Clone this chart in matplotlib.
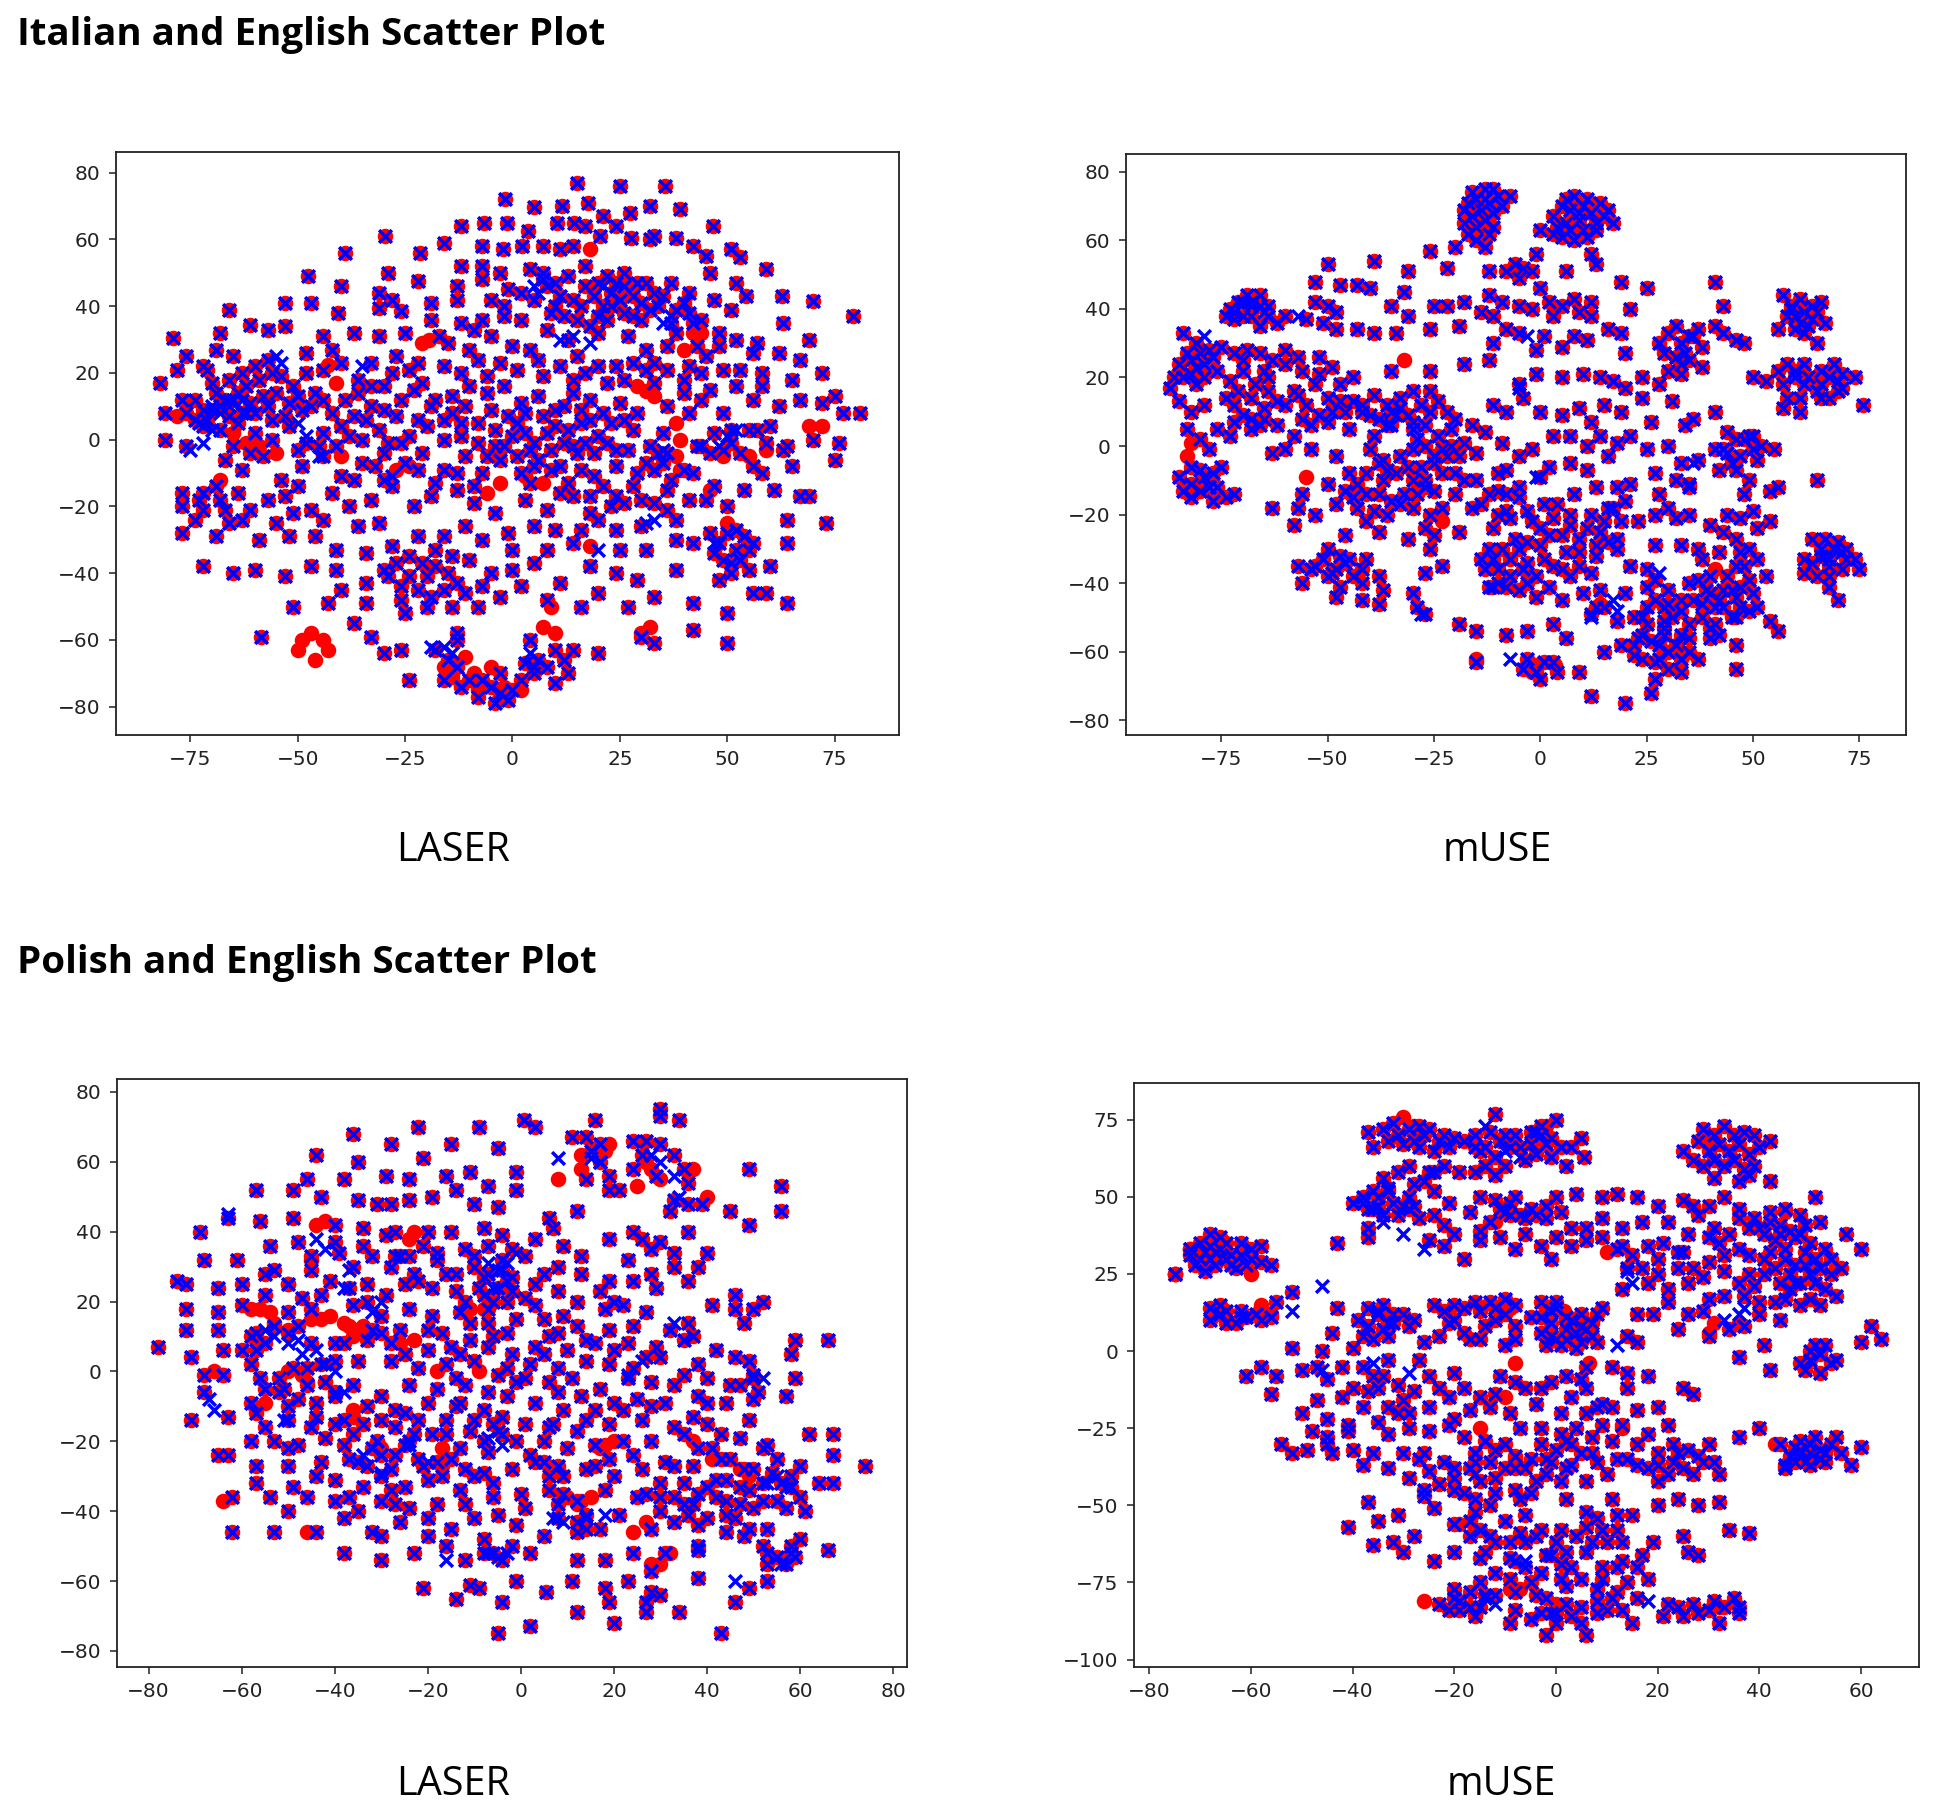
import numpy as np
import matplotlib
matplotlib.use('Agg')
import matplotlib.pyplot as plt

# points where both languages sit together
it_laser_both = [
    (15,77),(25,76),(35.5,76),(-1.7,72),(5,69.6),(11.6,70),(17.7,71),(27.4,68),(32,70),(39,69),(21,67),(24,64),
    (46.7,64),(-12,64),(-6.7,65),(-1.2,65),(3.7,62.5),(10.4,65),(14.4,65),(17,64),(-29.6,61),(-16,59),(-21.6,56),
    (-39,56),(-7,58),(-2.3,57),(2.3,58),(7,58),(11,57),(14,58),(20.5,61),(27.6,60.5),(32,60),(33,61),(38,60.5),
    (42,58),(45,55),(51,57),(53,54.6),(59,51),(52,47),(54.4,43),(62.7,43),(70,41.5),(79.4,37),(-47.5,49),(-40,46),
    (-29,50),(-22,47.5),(-31,44),(-28,42),(-19,41),(-31,39.5),(-26,38.5),(-53,41),(-47,41),(-66,39),(-40.5,38),
    (-61,34.5),(-57,33),(-68,32),(-53,34),(-37,32),(-31,31),(-25,32),(-79,30.5),(-44,31),(-19,36),(-12,35),(-7,36),
    (-2,37),(2,36),(-12,52),(-7,52),(-3,50),(-13,46),(-7,48),(-13,42),(-5,42),(-1,45),(5,42),(8,46),(11,43),
    (13,49),(17,52),(20,47),(23,44),(26,50),(29,47),(33,44),(16,40),(21,40),(26,38),(30,41),(37,47),(41,44),
    (46,50),(47,42),(51,39),(41,38),(37,35),(44,36),(48,32),(52,30),(57,29),(63,35),(69,30),(62,26),(56,26),
    (45,25),(49,21),(53,21),(58,20),(67,24),(65,18),(72,20),(75,13),(77,8),(81,8),(72,11),(67,12),(62,10),
    (56,12),(49,8),(46,15),(44,20),(41,22),(36,21),(31,27),(27,31),(20,32),(13,30),(8,33),(4,27),(0,28),(-5,31),
    (-10,27),(-15,29),(-16,22),(-22,23),(-27,25),(-33,23),(-42,27),(-48,26),(-57,24),(-65,25),(-69,27),(-76,25),
    (-72,22),(-71,21),(-78,21),(-82,17),(-77,12),(-81,8),(-81,0),(-76,-2),(-70,9),(-67,12),(-64,14),(-61,11),
    (-58,13),(-55,14),(-52,11),(-49,9),(-46,14),(-42,8),(-39,12),(-36,14),(-33,10),(-30,16),(-26,12),(-23,15),
    (-19,10),(-14,13),(-10,16),(-6,14),(-2,16),(2,11),(6,13),(10,9),(14,14),(18,12),(22,17),(25,11),(29,8),(33,17),
    (36,10),(40,14),(-72,4),(-68,3),(-64,5),(-60,2),(-56,0),(-52,4),(-48,-1),(-44,2),(-40,4),(-35,0),(-31,3),
    (-27,7),(-24,1),(-20,4),(-16,0),(-12,5),(-8,-1),(-4,3),(0,1),(4,-3),(8,2),(12,-1),(16,5),(20,1),(24,-3),
    (28,3),(32,-2),(36,-4),(43,-2),(47,2),(51,-1),(55,3),(59,-1),(64,-2),(70,0),(76,-1),(75,-6),(-67,-6),(-63,-9),
    (-58,-5),(-54,-12),(-49,-8),(-44,-5),(-40,-11),(-35,-7),(-30,-12),(-25,-7),(-21,-4),(-16,-9),(-11,-5),(-7,-10),
    (-3,-6),(2,-10),(6,-6),(11,-8),(15,-4),(19,-11),(24,-8),(29,-10),(35,-7),(42,-10),(47,-14),(56,-8),(65,-8),
    (-77,-16),(-77,-20),(-72,-21),(-68,-18),(-64,-16),(-61,-21),(-57,-18),(-53,-17),(-50,-14),(-47,-21),(-42,-16),
    (-38,-20),(-33,-18),(-28,-14),(-23,-20),(-19,-17),(-13,-15),(-9,-19),(-4,-22),(3,-18),(8,-21),(14,-17),(18,-22),
    (23,-20),(28,-14),(33,-19),(38,-24),(45,-18),(54,-15),(61,-15),(67,-17),(69,-17),(64,-24),(73,-25),(-77,-28),
    (-69,-29),(-63,-24),(-59,-30),(-52,-29),(-46,-29),(-41,-33),(-36,-26),(-31,-25),(-28,-32),(-22,-29),(-16,-29),
    (-11,-26),(-7,-30),(-1,-28),(5,-26),(10,-27),(14,-31),(20,-24),(25,-33),(31,-33),(38,-30),(42,-31),(48,-31),
    (52,-27),(55,-33),(64,-31),(60,-38),(-72,-38),(-65,-40),(-60,-39),(-53,-41),(-47,-38),(-41,-39),(-34,-43),
    (-30,-39),(-26,-44),(-21,-37),(-15,-40),(-10,-36),(-5,-40),(0,-39),(5,-37),(11,-43),(18,-38),(24,-40),(29,-42),
    (38,-39),(48,-42),(51,-37),(55,-39),(59,-46),(-51,-50),(-43,-49),(-40,-45),(-34,-49),(-25,-52),(-19,-47),
    (-14,-50),(-8,-50),(-3,-47),(2,-44),(8,-48),(16,-50),(20,-46),(27,-50),(33,-47),(42,-49),(50,-52),(56,-46),
    (64,-49),(-58.5,-59),(-37,-55),(-33,-59),(-26,-63),(-30,-64),(-13,-58),(4,-60),(14,-63),(20,-64),(30,-59),
    (33,-61),(42,-57),(50,-61),(-24,-72),(-16,-72),(-12,-74),(-8,-77),(-4,-79),(0,-75),(5,-70),(10,-73),(13,-70),
]
# tighter patches of the same kind, taken from the busy parts of the picture
it_laser_dense = [
    (-74,12),(-72,9),(-71,6),(-69,14),(-68,10),(-66,7),(-65,12),(-63,8),(-62,16),(-60,8),(-59,18),(-57,10),(-56,6),
    (-54,19),(-53,7),(-51,16),(-50,13),(-47,10),(-44,12),(-66,18),(-63,20),(-60,22),(-56,20),(-70,17),(-74,6),(-76,8),
    (-61,-4),(-65,-2),(-50,-3),(-45,-2),(-38,1),(-34,6),(-30,9),(-29,-1),(-22,6),(-18,12),(-14,8),(-12,1),(-8,5),(-5,9),
    (-4,-2),(-1,7),(1,5),(3,8),(3,2),(5,-1),(7,7),(9,-3),(10,4),(12,10),(13,3),(14,-2),(16,9),(17,-1),(18,6),(19,-4),
    (21,8),(22,-1),(23,5),(26,6),(27,-3),(-2,-2),(-6,-5),(1,-5),(5,-8),(9,-9),(13,-13),(16,-9),(21,-14),(24,-17),(-9,-14),
    (4,-13),(11,-16),(18,-17),(26,-19),(30,-18),(34,-4),(35,2),(33,-9),(37,-12),(31,-7),(36,-15),(40,-9),(46,-4),(49,-3),
    (51,3),(53,-4),(57,3),(60,4),(44,-2),(-72,-16),(-69,-14),(-67,-21),(-66,-25),(-73,-18),(-74,-24),(-29,-41),(-27,-37),
    (-24,-41),(-24,-35),(-22,-45),(-20,-41),(-18,-33),(-18,-38),(-16,-45),(-14,-35),(-26,-48),(-20,-50),(-13,-43),(7,48),
    (10,40),(14,42),(15,36),(17,46),(18,34),(19,43),(20,37),(22,36),(22,49),(23,40),(24,47),(25,42),(26,46),(28,37),(28,43),
    (30,36),(31,47),(32,39),(34,40),(35,43),(38,39),(40,41),(38,32),(42,35),(4,51),(7,50),(10,47),(12,37),(50,-28),(52,-33),
    (49,-36),(47,-34),(51,-40),(53,-36),(54,-29),(56,-31),(46,-28),(28,23),(31,21),(33,23),(20,22),(17,20),(14,18),(11,22),
    (7,19),(24,22),(26,18),(-13,-68),(-10,-72),(-7,-72),(-5,-74),(-3,-76),(-1,-78),(2,-72),(3,-67),(6,-66),(8,-68),(10,-63),
    (12,-66),(-18,-63),(-13,-60),(-15,-66),(-3,-70),
    # middle and lower gaps
    (-48,20),(-44,21),(-40,23),(-36,18),(-33,16),(-28,20),(-24,21),(-21,17),(-12,20),(-8,24),(-3,23),(1,21),(6,24),(-37,7),
    (-30,-4),(-26,-1),(-22,-9),(-18,-13),(-13,-10),(-11,10),(-6,19),(-16,6),(-41,-2),(-37,-12),(-32,-8),(-51,-22),(-55,-25),
    (-44,-24),(-34,-34),(-11,-46),(-7,-44),(0,-33),(8,-33),(16,-27),(24,-27),(30,-26),(36,-21),(41,-18),(50,-20),(58,-10),
    (63,-3),(41,8),(44,12),(52,16),(58,16),(48,28),(43,28),(36,28),(40,18),(15,25),(9,38),(2,44),(-2,40),(-9,33),(-17,31),
]
it_laser_red = [
    (-21,29),(-19.5,30),(-43,22.5),(-41,17),(29,16),(31,14.5),(33,13),(-65,2),(-62,-1),(-59,-2),(-55,-4),(-27,-9),
    (-24,-8),(-78,7),(-40,-5),(-68,-12),(18,-32),(-49,-60),(-47,-58),(-44,-60),(-43,-63),(-50,-63),(-46,-66),(38,5),
    (39,0),(38,-5),(39,-9),(40,27),(42,32),(44,32),(18,57),(-6,-16),(46,-15),(50,-25),(-11,-65),(-9,-70),(-14,-71),
    (-16,-68),(-8,-75),(-2,-74),(-5,-68),(2,-75),(32,-56),(30,-58),(7,-56),(10,-58),(9,-50),(-3,-13),(7,-13),(3,-11),
    (49,-5),(55,-5),(59,-3),(69,4),(72,4),
]
it_laser_blue = [
    (-70,10),(-68,8),(-66,10),(-63,12),(-70,3),(-75,-3),(-72,-1),(-50,5),(-48,1),(-35,22),(-28,-11),(11,30),(14,31),
    (18,29),(35,35),(37,37),(31,21),(35,-3),(50,1),(52,3),(48,-2),(-19,-62),(-16,-62),(-14,-64),(4,-64),(5,-68),
    (-66,12),(-62,8),(-73,5),(-54,23),(-55,25),(5,46),(6,44),(21,46),(20,-33),(31,-25),(33,-24),(47,-31),(-45,-5),
]

it_muse_both = [
    (-16,74),(-13,75),(-10,73),(-7,73),(-18,69),(-14,69),(-11,68),(-18,65),(-15,64),(-12,62),(-13,58),(-17,62),
    (-15,72),(-12,71),(5,70),(8,73),(11,72),(14,71),(17,65),(3,67),(6,65),(9,66),(12,68),(15,67),(5,61),(8,60),(11,61),
    (3,62),(0,63),(-20,58),(-26,57),(12,56),(13,53),(-12,51),(6,51),(-6,53),(-4,52),(-8,51),(-2,51),(-5,49),
    (-1,56),(-39,54),(-31,51),(-50,53),(-53,48),(-47,47),(-43,47),(-40,46),(-32,45),(-22,52),(-18,42),(0,46),
    (2,42),(5,41),(8,43),(12,42),(19,48),(25,46),(41,48),(43,41),(-53,42),(-50,41),(-48,39),(-35,41),(-25,41),(-22,41),
    (-12,44),(-9,42),(-5,41),(-14,39),(-11,38),(-31,38),(-2,40),(3,38),(9,39),(12,38),(21,40),(-73,40),(-71,42),
    (-69,44),(-66,41),(-64,38),(-68,38),(-72,37),(-60,38),(-62,36),(-66,35),(-55,37),(-51,36),(-48,34),(-43,34),
    (-39,33),(-34,33),(-26,34),(-19,35),(-11,30),(-8,34),(-5,33),(-1,28),(1,32),(5,29),(8,32),(11,31),(16,34),
    (19,33),(20,27),(28,30),(30,33),(33,30),(36,32),(38,29),(34,27),(32,26),(43,33),(46,31),(48,30),(41,35),(57,44),
    (59,41),(61,43),(64,41),(66,42),(58,38),(61,36),(64,37),(67,36),(56,34),(62,33),(65,30),(-84,33),(-81,30),(-78,28),
    (-75,29),(-72,27),(-69,28),(-66,27),(-63,25),(-60,24),(-56,22),(-52,21),(-85,24),(-82,25),(-79,24),(-84,20),
    (-87,17),(-81,18),(-76,22),(-70,22),(-65,22),(-53,18),(-49,23),(-47,18),(-44,20),(-35,22),(-26,22),(-18,24),
    (-12,25),(-5,18),(-1,21),(5,20),(10,21),(14,20),(17,19),(20,17),(24,20),(28,18),(33,21),(38,23),(50,20),(53,19),
    (56,22),(58,24),(60,20),(62,24),(66,22),(69,24),(71,21),(74,20),(62,18),(65,16),(68,14),(70,16),(58,14),(57,11),
    (61,10),(76,12),(-85,13),(-82,10),(-79,12),(-74,14),(-71,16),(-68,14),(-65,11),(-62,13),(-58,16),(-55,12),
    (-52,9),(-50,14),(-47,13),(-42,10),(-39,15),(-36,12),(-33,14),(-30,16),(-26,16),(-24,13),(-20,8),(-16,6),(-11,12),
    (-8,10),(-4,14),(0,10),(5,9),(9,11),(12,7),(15,12),(19,10),(24,14),(31,13),(34,6),(36,8),(41,10),(44,4),(50,-1),
    (-83,5),(-80,2),(-76,5),(-73,3),(-68,5),(-65,8),(-60,-1),(-58,3),(-50,7),(-45,5),(-39,3),(-35,6),(-30,5),(-27,0),
    (-24,3),(-21,5),(-18,1),(-13,4),(-9,1),(-5,-3),(-2,-1),(3,3),(7,3),(11,0),(14,3),(18,1),(21,3),(25,-1),(26,7),
    (30,0),(33,-5),(37,-4),(41,-1),(43,-1),(46,2),(49,3),(51,-4),(55,-1),(-78,-1),(-63,-2),(-54,-1),(-48,-3),
    (-40,-1),(-37,-4),(-33,-3),(-28,-6),(-25,-5),(-20,-8),(-15,-2),(-8,-7),(2,-6),(7,-5),(11,-7),(16,-3),(27,-8),
    (32,-10),(35,-11),(42,-7),(46,-7),(49,-10),(56,-12),(-85,-9),(-82,-11),(-79,-9),(-75,-6),(-76,-12),(-56,-14),
    (-50,-11),(-45,-8),(-41,-14),(-37,-10),(-32,-14),(-27,-12),(-20,-14),(-15,-10),(-10,-8),(-5,-12),(0,-9),
    (21,-11),(28,-14),(30,-18),(35,-12),(44,-20),(47,-21),(50,-19),(65,-10),(-72,-14),(-63,-18),(-57,-18),(-53,-20),
    (-48,-17),(-44,-15),(-39,-19),(-33,-17),(-26,-20),(-23,-18),(-14,-17),(-8,-14),(-3,-19),(4,-17),(8,-14),(13,-12),
    (18,-12),(27,-20),(32,-21),(35,-20),(48,-14),(54,-13),(-80,-13),(-77,-16),(-74,-15),(-27,-24),(-16,-18),(-10,-20),
    (-2,-22),(2,-26),(7,-23),(11,-24),(15,-22),(18,-27),(23,-22),(27,-29),(40,-23),(43,-25),(46,-27),(51,-24),
    (54,-22),(-58,-23),(-46,-26),(-41,-22),(-36,-20),(-31,-27),(-26,-30),(-19,-25),(-12,-30),(-6,-27),(0,-29),
    (6,-31),(9,-27),(13,-29),(18,-30),(21,-35),(25,-36),(27,-39),(33,-29),(38,-33),(42,-31),(44,-38),(48,-35),
    (51,-33),(64,-27),(66,-30),(68,-33),(70,-28),(72,-33),(75,-36),(-57,-35),(-51,-33),(-47,-32),(-42,-36),(-38,-38),
    (-27,-37),(-23,-35),(-14,-33),(-10,-36),(-7,-33),(-3,-40),(3,-35),(7,-38),(14,-42),(20,-43),(25,-41),(29,-47),
    (37,-39),(40,-43),(45,-42),(49,-39),(53,-38),(62,-37),(65,-38),(68,-38),(71,-36),(-56,-40),(-49,-37),(-45,-33),
    (-42,-40),(-37,-42),(-30,-43),(-12,-41),(-8,-41),(-4,-36),(-1,-44),(5,-45),(10,-43),(24,-50),(29,-51),(33,-45),
    (41,-47),(46,-44),(49,-48),(54,-51),(68,-41),(70,-45),(-54,-36),(-48,-44),(-42,-45),(-38,-46),(-29,-47),(-27,-49),
    (-15,-54),(-19,-52),(-8,-55),(-3,-54),(3,-52),(6,-56),(12,-49),(15,-47),(18,-51),(25,-52),(29,-55),(35,-52),
    (40,-53),(46,-58),(56,-54),(-11,-41),(30,-46),(-15,-63),(-4,-65),(-1,-66),(1,-63),(4,-66),(9,-66),(12,-73),
    (20,-75),(26,-72),(33,-66),(27,-63),(22,-61),(28,-58),(37,-62),(40,-56),(46,-65),(15,-60),(19,-58),
]
it_muse_dense = [
    (-17,71),(-11,75),(-13,66),(-9,70),(-16,67),(-13,72),(-11,64),(-15,60),(7,69),(10,70),(13,65),(4,64),(7,63),(10,63),
    (13,63),(6,72),(9,68),(16,69),(-72,39),(-70,38),(-68,41),(-66,44),(-64,41),(-70,42),(-74,38),(-83,27),(-81,23),(-79,20),
    (-77,26),(-82,21),(-86,20),(-80,27),(-72,12),(-70,9),(-68,8),(-66,6),(-64,16),(-60,12),(-67,18),(-72,7),(-62,6),(-82,-6),
    (-80,-7),(-78,-12),(-84,-13),(-82,-15),(-77,-8),(-53,-35),(-50,-30),(-48,-36),(-46,-34),(-44,-38),(-50,-38),(-47,-41),(-41,-33),
    (-13,-36),(-11,-33),(-9,-30),(-7,-38),(-5,-30),(-3,-34),(-1,-38),(2,-41),(-5,-42),(-10,-40),(-29,2),(-27,6),(-25,-3),(-23,-8),
    (-27,-10),(-25,-13),(-22,-3),(-21,0),(-30,-1),(-19,-3),(-26,10),(-30,-10),(-29,-14),(-38,8),(-42,12),(-40,9),(-44,13),(-35,10),
    (-33,11),(-31,9),(-46,-13),(-41,-8),(-38,-14),(-36,-7),(-43,-11),(-38,-5),(-12,-14),(-10,-13),(-8,-19),(-5,-15),(0,-24),(3,-21),
    (5,-26),(7,-20),(9,-31),(1,-17),(14,-25),(16,-28),(16,-18),(12,-20),(35,32),(37,34),(32,35),(29,27),(33,24),(35,25),(30,22),
    (59,40),(62,39),(60,34),(63,35),(65,39),(57,18),(60,22),(61,14),(63,20),(66,18),(68,20),(70,19),(66,14),(71,17),(47,-3),(45,-5),
    (48,2),(50,3),(52,0),(44,-2),(30,-60),(32,-58),(28,-62),(30,-65),(24,-55),(26,-57),(33,-55),(29,-53),(35,-60),(24,-62),(22,-58),
    (31,-50),(27,-68),(38,-46),(43,-47),(45,-50),(41,-52),(39,-42),(47,-41),(50,-43),(51,-47),(43,-42),(46,-50),(66,-32),(64,-34),
    (69,-30),(71,-31),(67,-27),(68,-35),(72,-30),(17,-18),(19,-22),(20,-16),(-3,-62),(0,-68),(3,-63),
    # more of the busy centre and right side
    (-60,28),(-57,26),(-52,26),(-70,25),(-64,20),(-73,19),(-54,6),(-56,8),(-57,15),(-46,10),(-49,10),(-34,9),(-36,6),(-28,12),
    (-30,7),(-22,10),(-23,-1),(-31,-6),(-34,-8),(-18,-10),(-35,-16),(-30,-18),(-43,-18),(-38,-25),(-25,-26),(-11,-24),(-7,-21),
    (-3,-28),(1,-33),(5,-36),(9,-35),(12,-37),(27,-45),(30,-42),(33,-48),(36,-45),(35,-40),(40,-38),(42,-45),(47,-47),(25,-47),
    (23,-56),(35,-56),(38,-50),(42,-55),(33,-62),(22,-50),(37,-30),(47,-31),(49,-30),(46,-35),(13,-32),(67,-32),(62,-33),(74,-33),
]
it_muse_red = [(-13,60),(13,-47),(14,-46),(41,-36),(-15,-62),(3.5,-64),(-1,-64),(-32,25),(-2,-66),(-83,-3),(-23,-22),(-55,-9),(-34,12),(-82,1)]
it_muse_blue = [(-3,32),(-5,17),(-1,-9),(28,-37),(13,-47),(17,-45),(18,-48),(12,-50),(-28,-49),(-7,-62),(-57,38),(-65,39),(-68,42),(60,38),(-79,32),(36,-5)]

pl_laser_both = [
    (0.7,72),(3,70),(-9,70),(-22,70),(-36,68),(-28,65),(-15,65),(-5,64),(-44,62),(-35,60),(-21,61),(-11,57),(-1,57),
    (-46,55),(-29,56),(-24,55),(-16,56),(-38,55),(-7,53),(-57,52),(-49,52),(-14,52),(-1,52),(-43,50),(-35,49),(-31,48),
    (-28,48),(-24,49),(-19,50),(-10,48),(-5,47),(6,44),(12,46),(-63,44),(-56,43),(-49,44),(-40,42),(-34,41),(-29,39),
    (-27,40),(-20,40),(-15,40),(-8,41),(-4,39),(3,38),(7,41),(-69,40),(-48,37),(-40,37),(-34,36),(-26,33),(-21,36),
    (-12,35),(-7,36),(-2,35),(9,36),(19,38),(-68,32),(-61,32),(-54,36),(-45,33),(-39,34),(-32,33),(-27,33),(-18,34),
    (-10,33),(-4,29),(1,33),(5,28),(13,33),(23,32),(28,35),(-60,25),(-53,29),(-45,29),(-36,30),(-33,25),(-28,30),
    (-23,28),(-14,28),(-8,27),(-2,27),(3,25),(8,30),(13,28),(19,26),(-74,26),(-72,25),(-65,24),(-60,19),(-50,25),
    (-47,21),(-41,26),(-33,20),(-29,22),(-25,25),(-19,24),(-14,23),(-8,22),(-3,20),(3,19),(8,23),(12,20),(17,23),
    (24,26),(29,24),(-72,18),(-65,17),(-50,17),(-45,18),(-36,19),(-30,16),(-24,18),(-19,16),(-13,17),(-7,14),(-1,15),
    (5,15),(9,16),(18,18),(22,19),(27,17),(41,19),(-72,12),(-65,12),(-57,11),(-50,11),(-32,12),(-26,12),(-17,11),
    (-11,14),(-3,11),(6,10),(12,13),(19,12),(24,13),(32,12),(36,14),(37,10),(-78,7),(-64,6),(-57,6),(-40,8),(-33,9),
    (-28,8),(-20,6),(-13,5),(-7,7),(-2,5),(3,7),(10,6),(16,8),(23,8),(29,7),(35,9),(42,6),(59,9),(66,9),(-71,4),
    (-64,-1),(-58,2),(-49,1),(-35,3),(-28,3),(-22,1),(-16,2),(-10,3),(-3,1),(1,-2),(8,1),(14,3),(19,2),(24,1),(30,4),
    (38,2),(46,4),(58,5),(-68,-1),(-56,-2),(-52,-6),(-46,-4),(-36,-4),(-30,-7),(-24,-4),(-14,-2),(-7,-6),(-1,-3),(6,-3),
    (11,-2),(17,-5),(23,-2),(28,-3),(35,-1),(40,-2),(45,-4),(50,-2),(59,-2),(-68,-6),(-58,-9),(-44,-9),(-40,-7),
    (-33,-10),(-27,-11),(-20,-9),(-13,-9),(-8,-11),(-3,-7),(3,-9),(9,-11),(13,-7),(20,-9),(25,-8),(31,-9),(38,-7),
    (44,-9),(50,-8),(57,-7),(-71,-14),(-63,-13),(-57,-12),(-50,-14),(-45,-16),(-38,-14),(-34,-15),(-27,-16),(-22,-14),
    (-16,-14),(-11,-17),(-4,-13),(1,-15),(7,-15),(14,-14),(19,-15),(26,-14),(33,-16),(40,-15),(49,-14),(-63,-24),
    (-58,-20),(-53,-20),(-48,-21),(-42,-19),(-38,-21),(-31,-20),(-24,-20),(-19,-18),(-13,-22),(-7,-23),(-1,-20),(5,-20),
    (10,-22),(16,-21),(22,-20),(28,-20),(35,-18),(41,-22),(47,-19),(53,-21),(62,-18),(67,-18),(-65,-24),(-57,-27),
    (-50,-27),(-43,-26),(-37,-25),(-33,-27),(-28,-28),(-21,-27),(-15,-25),(-8,-29),(-2,-28),(3,-26),(9,-30),(14,-28),
    (19,-25),(26,-28),(31,-26),(37,-27),(43,-25),(48,-28),(55,-25),(60,-27),(67,-24),(74,-27),(-57,-32),(-49,-33),
    (-40,-31),(-34,-33),(-25,-33),(-20,-31),(-13,-34),(-6,-36),(0,-35),(6,-34),(12,-37),(18,-34),(25,-36),(30,-32),
    (35,-32),(42,-31),(47,-33),(52,-32),(58,-33),(64,-32),(67,-32),(-62,-36),(-54,-36),(-46,-36),(-40,-37),(-30,-37),
    (-24,-39),(-18,-38),(-10,-42),(-5,-41),(1,-39),(8,-42),(14,-41),(21,-41),(30,-40),(37,-38),(44,-37),(50,-39),
    (55,-37),(61,-40),(-50,-40),(-38,-42),(-32,-46),(-26,-43),(-20,-42),(-15,-45),(-8,-48),(5,-47),(12,-46),(17,-45),
    (28,-45),(33,-43),(38,-44),(46,-42),(53,-45),(-62,-46),(-53,-46),(-44,-46),(-38,-52),(-30,-47),(-23,-52),(-16,-50),
    (-12,-54),(2,-52),(12,-54),(18,-54),(24,-52),(31,-52),(38,-51),(48,-47),(53,-52),(58,-52),(66,-51),(-30,-54),
    (-21,-62),(-11,-61),(-9,-62),(-1,-60),(5.5,-63),(11,-60),(18,-62),(23,-60),(28,-57),(38,-59),(49,-62),(53,-60),
    (-14,-65),(-4,-66),(19,-66),(34,-69),(27,-69),(12,-69),(46,-66),(2,-73),(20,-72),(-5,-75),(43,-75),(38,-50),(58,-50),
]
pl_laser_dense = [
    (30,75),(30,73),(34,72),(16,72),(11,67),(14,67),(17,65),(15,63),(17,60),(19,56),(19,52),(14,55),(21,52),(24,66),(27,66),
    (30,65),(26,62),(24,58),(29,56),(33,62),(35,58),(36,54),(33,49),(32,46),(36,48),(39,48),(49,58),(56,53),(56,46),(49,42),
    (45,46),(26,38),(30,37),(33,34),(36,40),(24,40),(28,28),(33,30),(36,26),(38,30),(40,34),(46,22),(46,18),(48,14),(50,18),
    (52,20),(-58,10),(-55,8),(-53,13),(-60,6),(-48,13),(-45,8),(-40,3),(-38,8),(-43,2),(-46,1),(-42,-3),(-40,-6),(-51,-5),
    (-48,-8),(-50,-10),(-44,-13),(-55,-5),(-52,-2),(-7,28),(-5,24),(-3,26),(-9,24),(-6,20),(-4,32),(-10,30),(-2,23),(1,21),
    (-18,32),(-22,26),(-12,20),(-7,18),(-25,-21),(-27,-24),(-23,-18),(-30,-24),(-22,-25),(-18,-26),(-32,-22),(-35,-26),(-30,-30),
    (-28,-34),(-27,-38),(-16,-18),(-14,-10),(-10,-14),(-6,-15),(-8,-20),(-4,-18),(2,-24),(5,-26),(8,-27),(9,-35),(12,-43),(14,-45),
    (35,-38),(38,-35),(40,-33),(42,-36),(44,-41),(47,-38),(49,-34),(50,-28),(52,-37),(54,-29),(56,-32),(58,-30),(52,-22),(45,-25),
    (33,-36),(36,-41),(30,-36),(40,-42),(57,-39),(53,-55),(55,-53),(57,-55),(59,-53),(60,-48),(52,-50),(50,-1),(47,-4),(51,-6),(49,3),
    (27,-66),(28,-63),(30,-64),(-6,-52),(-4,-54),(-2,-50),(-8,-52),(8,-38),(-10,-30),(-6,-32),(-17,-30),(-12,-28),
    # remaining gaps in the middle of the cloud
    (-24,33),(-16,28),(-11,9),(-6,10),(-15,7),(-20,12),(-25,5),(-30,11),(-37,24),(-43,22),(-55,22),(-55,28),(-40,-15),(-36,-18),
    (-30,-14),(-25,-12),(-18,-5),(-12,-4),(-5,-1),(2,2),(5,5),(8,11),(14,9),(20,6),(27,4),(12,-17),(16,-11),(22,-11),(28,-10),(33,-4),
    (37,-13),(43,-18),(24,-24),(20,-30),(27,-35),(33,-27),(38,-22),(44,-31),(60,-36),(49,-45),(44,-46),(16,-27),(6,-30),(-1,-44),
    (-20,-47),(-37,-36),(-44,-30),(-50,-22),(-55,-16),(-35,-40),(-12,-38),(20,20),(8,-6),(40,-9),(6,-16),
]
pl_laser_red = [
    (-58,18),(-56,18),(-54,17),(-53,14),(-45,15),(-43,15),(-41,16),(-38,14),(-37,13),(-35,12),(-34,13),(-36,10),(-50,12),
    (-47,-1),(-46,-3),(-42,-3),(-66,0),(-64,-1),(-50,0),(-36,-11),(-36,-13),(-30,-22),(-17,-22),(-16,-25),(-17,-27),(-9,0),
    (-8,18),(-11,18),(18,-21),(17,-22),(20,-20),(13,-37),(15,-36),(12,-38),(10,-36),(24,-46),(27,-43),(37,-20),(41,-25),
    (47,-28),(49,-30),(32,-52),(30,-55),(28,-55),(-26,8),(-23,9),(-23,40),(-24,38),(-18,0),(27,60),(28,58),(30,55),(13,62),
    (18,63),(19,65),(13,58),(8,55),(40,50),(37,58),(25,53),(-45,32),(-42,43),(-44,42),(-50,25),(-64,-37),(-46,-46),(-55,-9),
]
pl_laser_blue = [
    (-63,45),(-44,38),(-42,35),(-38,24),(-37,29),(-30,20),(-32,17),(-55,12),(-53,10),(-50,8),(-48,9),(-47,5),(-44,6),(-42,2),
    (-40,0),(-38,-6),(8,61),(15,61),(17,60),(28,62),(30,60),(33,56),(34,50),(-6,24),(-5,29),(-3,31),(-7,31),(-1,34),(-5,-17),
    (-7,-19),(-4,-21),(-24,-21),(-20,-26),(-34,-24),(-30,-29),(52,-2),(50,-1),(53,-32),(55,-30),(57,-33),(56,-55),(-7,-52),
    (-5,-53),(-3,-52),(-16,-54),(46,-60),(9,-43),(14,-42),(18,-41),(7,-42),(-67,-8),(-66,-11),(-51,-14),(23,-1),(26,3),(33,14),
]

pl_muse_both = [
    (-12,77),(-32,74),(-29,72),(-27,73),(-25,72),(-22,70),(-20,69),(-37,71),(-36,66),(-33,68),(-30,67),(-27,66),(-24,65),
    (-16,70),(-13,71),(-11,68),(-8,70),(-5,71),(-3,70),(0,75),(-15,65),(-12,63),(-9,66),(-5,67),(-2,67),(3,66),(5,69),(5.5,63),
    (-1,63),(-6,62),(-19,58),(-12,57),(-10,60),(-29,60),(-25,58),(-26,55),(2,60),(-33,52),(-29,50),(-35,50),(-38,50),
    (-40,48),(-36,46),(-32,48),(-28,47),(-24,44),(-22,41),(-20,38),(-37,40),(-37,37),(-25,36),(-15,50),(-12,49),(-9,48),(-5,46),
    (-2,47),(0,50),(1,45),(4,51),(9,50),(12,51),(16,50),(-13,42),(-10,45),(-7,44),(-15,39),(-11,37),(-3,34),(0,37),(3,34),(6,36),
    (-43,35),(-22,34),(-18,30),(-15,36),(9,43),(9,37),(13,34),(15,31),(18,34),(21,35),(25,32),(31,40),(34,38),(20,47),(25,49),(27,47),
    (30,47),(33,50),(28,44),(36,46),(39,43),(42,45),(45,46),(48,44),(51,50),(49,41),(52,42),(57,38),(41,38),(44,38),(47,37),(50,35),
    (53,33),(42,32),(45,30),(38,31),(41,25),(44,22),(47,22),(50,25),(54,25),(56,27),(60,33),(36,33),(32,35),(30,29),(27,27),(24,27),
    (20,25),(17,27),(14,27),(12,33),(29,24),(33,26),(36,22),(39,21),(45,17),(48,15),(52,15),(55,18),(37,18),(29,13),(26,12),(19,12),
    (22,16),(24,7),(16,12),(14,5),(16,3),(-70,30),(-68,34),(-66,33),(-64,31),(-62,35),(-60,30),(-58,29),(-56,28),(-67,28),(-70,35),
    (-66,37),(-72,33),(-63,27),(-75,25),(-68,14),(-65,13),(-62,13),(-68,10),(-65,9),(-61,11),(-58,10),(-56,11),(-52,19),(-55,16),
    (-43,14),(-32,12),(-35,13),(-33,9),(-37,14),(-44,6),(-38,5),(-34,7),(-29,8),(-24,15),(-20,15),(-21,9),(-15,13),(-12,10),(-10,17),
    (-8,15),(-3,16),(0,14),(2,11),(5,8),(8,12),(-5,11),(-3,6),(-1,5),(2,4),(5,3),(8,3),(-18,6),(-15,4),(-10,2),(-8,4),(-26,3),(-23,5),
    (-46,0),(-40,1),(-52,1),(-61,-8),(-58,-5),(-55,-8),(-50,-6),(-38,-5),(-33,-3),(-31,-11),(-27,-3),(-25,-8),(-20,-7),(-18,-12),(-15,-15),
    (-11,-8),(-6,-12),(-1,-10),(2,-8),(6,-5),(11,-5),(14,-7),(18,-8),(25,-12),(27,-14),(-42,-15),(-38,-18),(-35,-12),(-30,-16),(-29,-20),
    (-25,-18),(-21,-15),(-13,-18),(-9,-20),(-4,-17),(3,-15),(6,-12),(9,-17),(14,-12),(16,-19),(20,-18),(22,-24),(-45,-22),(-41,-24),
    (-35,-23),(-33,-27),(-29,-25),(-25,-26),(-21,-24),(-18,-28),(-14,-29),(-10,-30),(-7,-25),(-3,-25),(1,-27),(4,-25),(9,-24),(13,-24),
    (18,-27),(23,-30),(-49,-32),(-45,-28),(-40,-32),(-36,-33),(-30,-33),(-27,-35),(-25,-39),(-22,-36),(-16,-33),(-12,-32),(-8,-34),
    (-3,-30),(0,-32),(3,-30),(7,-33),(11,-29),(16,-30),(20,-33),(26,-32),(30,-30),(36,-28),(40,-25),(44,-30),(-52,-33),(-44,-33),
    (-38,-37),(-33,-38),(-29,-41),(-26,-45),(-20,-38),(-17,-38),(-12,-41),(-8,-45),(-6,-38),(-2,-40),(2,-38),(6,-42),(10,-40),(14,-35),
    (18,-38),(23,-36),(27,-40),(31,-36),(50,-30),(48,-32),(53,-33),(47,-36),(50,-37),(56,-33),(60,-31),(45,-38),(-37,-49),(-35,-55),(-31,-53),
    (-26,-47),(-24,-51),(-16,-52),(-13,-50),(-10,-55),(-7,-48),(-5,-46),(2,-48),(6,-52),(11,-48),(15,-53),(20,-50),(24,-48),(28,-50),(32,-49),
    (-41,-57),(-36,-63),(-32,-62),(-28,-60),(-30,-65),(-20,-56),(-17,-60),(-13,-60),(-9,-62),(-3,-58),(0,-62),(6,-57),(9,-58),(13,-62),
    (19,-62),(25,-60),(28,-66),(34,-58),(38,-59),(-24,-68),(-20,-65),(-15,-67),(-12,-72),(-8,-68),(-6,-62),(-2,-66),(1,-69),(6,-65),(9,-70),
    (13,-68),(17,-66),(26,-65),(-23,-82),(-20,-80),(-17,-78),(-15,-83),(-12,-79),(-8,-84),(-4,-79),(-1,-85),(2,-82),(5,-88),(8,-85),(11,-80),
    (13,-84),(15,-88),(21,-86),(25,-86),(27,-82),(30,-84),(32,-88),(36,-85),(35,-80),(-9,-88),(-2,-92),(0,-88),(6,-92),(-19,-84),(-16,-86),(22,-82),
    (48,-33),(52,-35),(55,-28),(58,-37),(45,-37),(-56,-14),(-47,-16),(-50,-20),(-42,-5),(-36,-8),(34,7),(30,5),(37,8),(36,-2),(41,2),(42,-6),
    (50,0),(53,2),(48,-4),(52,-7),(55,-3),(62,8),(64,4),(60,3),(-75,25),(-47,-5),(-45,-9),(-40,-12),(-54,-30),(-41,-26),(-48,-26),
]
pl_muse_dense = [
    (29,72),(31,70),(33,73),(35,70),(37,71),(39,70),(42,68),(28,68),(30,65),(32,67),(34,65),(36,67),(38,64),(40,66),(25,65),(27,62),(29,60),
    (31,62),(33,60),(35,62),(37,59),(39,60),(42,55),(36,55),(38,57),(31,56),(-28,68),(-26,70),(-23,68),(-21,66),(-18,68),(-16,66),(-31,70),
    (-34,72),(-14,66),(-10,70),(-7,66),(-4,64),(-1,69),(-3,73),(1,66),(-38,48),(-35,47),(-34,44),(-31,44),(-29,46),(-27,43),(-33,53),(-30,47),
    (-37,46),(-11,46),(-8,50),(-6,43),(-9,44),(-4,44),(-2,43),(-65,35),(-67,32),(-65,30),(-62,31),(-60,33),(-64,28),(-68,30),(-61,28),(-69,32),
    (-66,12),(-63,9),(-66,15),(-62,11),(-59,12),(-35,12),(-34,15),(-32,9),(-30,12),(-37,8),(-33,5),(-28,10),(-3,11),(-1,9),(0,4),(2,7),(4,6),
    (6,7),(7,5),(-1,13),(3,10),(5,12),(7,9),(0,16),(1,2),(9,14),(4,1),(-2,2),(-16,16),(-13,16),(-18,14),(-10,12),(-8,8),(-14,8),(-20,10),
    (-17,4),(-22,13),(-12,14),(40,40),(42,42),(44,41),(46,39),(38,40),(36,43),(43,36),(48,38),(45,33),(41,30),(38,25),(43,27),(46,25),(49,28),
    (51,30),(48,22),(52,27),(51,22),(54,30),(53,20),(46,20),(43,16),(50,17),(40,16),(49,32),(47,28),(52,-32),(50,-33),(48,-29),(51,-28),(46,-34),
    (54,-30),(53,-36),(49,-36),(47,-31),(50,-3),(52,-1),(49,-6),(54,-4),(51,2),(-8,-38),(-5,-35),(-4,-42),(-1,-36),(1,-42),(3,-37),(5,-33),(8,-36),
    (2,-29),(-2,-35),(7,-28),(12,-35),(16,-37),(20,-37),(22,-40),(25,-38),(29,-36),(-20,-45),(-16,-48),(-15,-42),(-18,-46),(-12,-46),(-16,-36),
    (-20,-41),(-23,-43),(-13,-36),(-17,-55),(-15,-58),(-14,-65),(-12,-62),(-9,-67),(-7,-59),(-1,-66),(2,-65),(4,-60),(7,-62),(10,-62),(12,-58),
    (1,-74),(3,-70),(5,-74),(8,-77),(-3,-72),(-5,-75),(-8,-78),(-2,-80),(2,-76),(0,-85),(3,-86),(5,-83),(8,-81),(10,-84),(-5,-87),(-3,-85),
    (-19,-81),(-17,-83),(-20,-77),(-14,-79),(-21,-84),(12,-70),(14,-75),(12,-78),(16,-80),(18,-74),(24,-83),(28,-85),(31,-81),(33,-83),
    (36,-83),(-72,33),(-72,31),(-71,28),(-69,26),(-68,38),(-58,34),(5,-9),(8,-18),(-45,-30),
    # fill for the blocks that still looked thin
    (-36,52),(-34,56),(-31,58),(-28,54),(-24,58),(-22,60),(-24,52),(-21,48),(-17,45),(-16,58),(-14,60),(-6,38),(-8,33),(-1,30),(3,40),(6,40),
    (13,40),(17,42),(22,42),(26,38),(20,30),(24,32),(13,20),(18,22),(22,20),(30,37),(33,31),(30,17),(26,22),(33,18),(40,12),(44,10),(-39,10),
    (-36,4),(-34,-8),(-37,-13),(-33,-18),(-28,-13),(-23,-12),(-17,-19),(-12,-14),(-8,-10),(-3,-12),(1,-20),(6,-20),(11,-18),(-31,-20),(-26,-33),
    (-20,-22),(-10,-38),(20,-42),(24,-33),(32,-40),(28,-34),(-6,-53),(-4,-60),(1,-58),(8,-54),(12,-53),(-15,-75),(-9,-74),(-6,-70),(9,-74),(16,-70),
]
pl_muse_red = [
    (-28,73),(-30,76),(-2,73),(30,69),(-12,42),(31,9),(30,6),(10,32),(-9,14),(6.5,-4),(2,10),(1.5,13),(13,-25),(-8,-4),(-10,-15),
    (-15,-25),(-8,-35),(-19,-56),(-7,-77),(-26,-81),(-9,-77),(0,-82),(32,-83),(36,9),(-58,15),(-56,12),(-75,25),(45,45),(43,-30),(-60,25),
]
pl_muse_blue = [
    (-40,48),(-29,-7),(-14,73),(-10,65),(-7,63),(-36,-4),(-46,-6),(-4,71),(-14,-80),(-12,-82),(36,12),(33,10),(37,14),(18,-81),(-46,21),(-52,13),
    (12,2),(15,22),(14,26),(-34,42),(-30,38),(-26,33),(-6,-68),(-3,-72),(-16,-40),
]

it_laser_xticks = [-75, -50, -25, 0, 25, 50, 75]
it_laser_yticks = [-80, -60, -40, -20, 0, 20, 40, 60, 80]
it_muse_xticks = [-75, -50, -25, 0, 25, 50, 75]
it_muse_yticks = [-80, -60, -40, -20, 0, 20, 40, 60, 80]
pl_laser_xticks = [-80, -60, -40, -20, 0, 20, 40, 60, 80]
pl_laser_yticks = [-80, -60, -40, -20, 0, 20, 40, 60, 80]
pl_muse_xticks = [-80, -60, -40, -20, 0, 20, 40, 60]
pl_muse_yticks = [-100, -75, -50, -25, 0, 25, 50, 75]

W, H = 1942, 1818


def add_panel(box, lims, both, dense, red, blue, xticks, yticks):
    left, right, top, bottom = box
    ax = fig.add_axes([left / W, 1 - bottom / H, (right - left) / W, (bottom - top) / H])
    shared = np.vstack([np.array(both), np.array(dense)])
    red_all = np.vstack([shared, np.array(red)])
    blue_all = np.vstack([shared, np.array(blue)])
    ax.scatter(red_all[:, 0], red_all[:, 1], c='red', marker='o', s=125, linewidths=0)
    ax.scatter(blue_all[:, 0], blue_all[:, 1], c='blue', marker='x', s=85, linewidths=2.5)
    ax.set_xlim(lims[0], lims[1])
    ax.set_ylim(lims[2], lims[3])
    ax.set_xticks(xticks)
    ax.set_yticks(yticks)
    ax.tick_params(labelsize=14.5, length=5, width=1.1, pad=6, colors='#222222')
    for s in ax.spines.values():
        s.set_linewidth(1.3)
        s.set_color('#222222')
    return ax


fig = plt.figure(figsize=(W / 100, H / 100), dpi=100)

add_panel((116, 899, 152, 735), (-92.3, 90, -88.5, 86.2), it_laser_both, it_laser_dense, it_laser_red, it_laser_blue, it_laser_xticks, it_laser_yticks)
add_panel((1126, 1906, 154, 735), (-97.4, 86, -84.3, 85.2), it_muse_both, it_muse_dense, it_muse_red, it_muse_blue, it_muse_xticks, it_muse_yticks)
add_panel((117, 907, 1079, 1667), (-86.8, 83, -84.6, 83.7), pl_laser_both, pl_laser_dense, pl_laser_red, pl_laser_blue, pl_laser_xticks, pl_laser_yticks)
add_panel((1134, 1919, 1083, 1667), (-83, 71.4, -102.4, 86.9), pl_muse_both, pl_muse_dense, pl_muse_red, pl_muse_blue, pl_muse_xticks, pl_muse_yticks)

title_font = ['Open Sans', 'DejaVu Sans']
fig.text(17 / W, 1 - 35 / H, 'Italian and English Scatter Plot', fontsize=27.7, fontweight='bold', family=title_font, va='center', color='black')
fig.text(17 / W, 1 - 963 / H, 'Polish and English Scatter Plot', fontsize=27.7, fontweight='bold', family=title_font, va='center', color='black')

for xpos, ypos, label in [(453, 851, 'LASER'), (1497, 851, 'mUSE'), (453, 1785, 'LASER'), (1501, 1785, 'mUSE')]:
    fig.text(xpos / W, 1 - ypos / H, label, fontsize=28.5, family=title_font, ha='center', va='center', color='black')

fig.savefig('out.png', dpi=100)
